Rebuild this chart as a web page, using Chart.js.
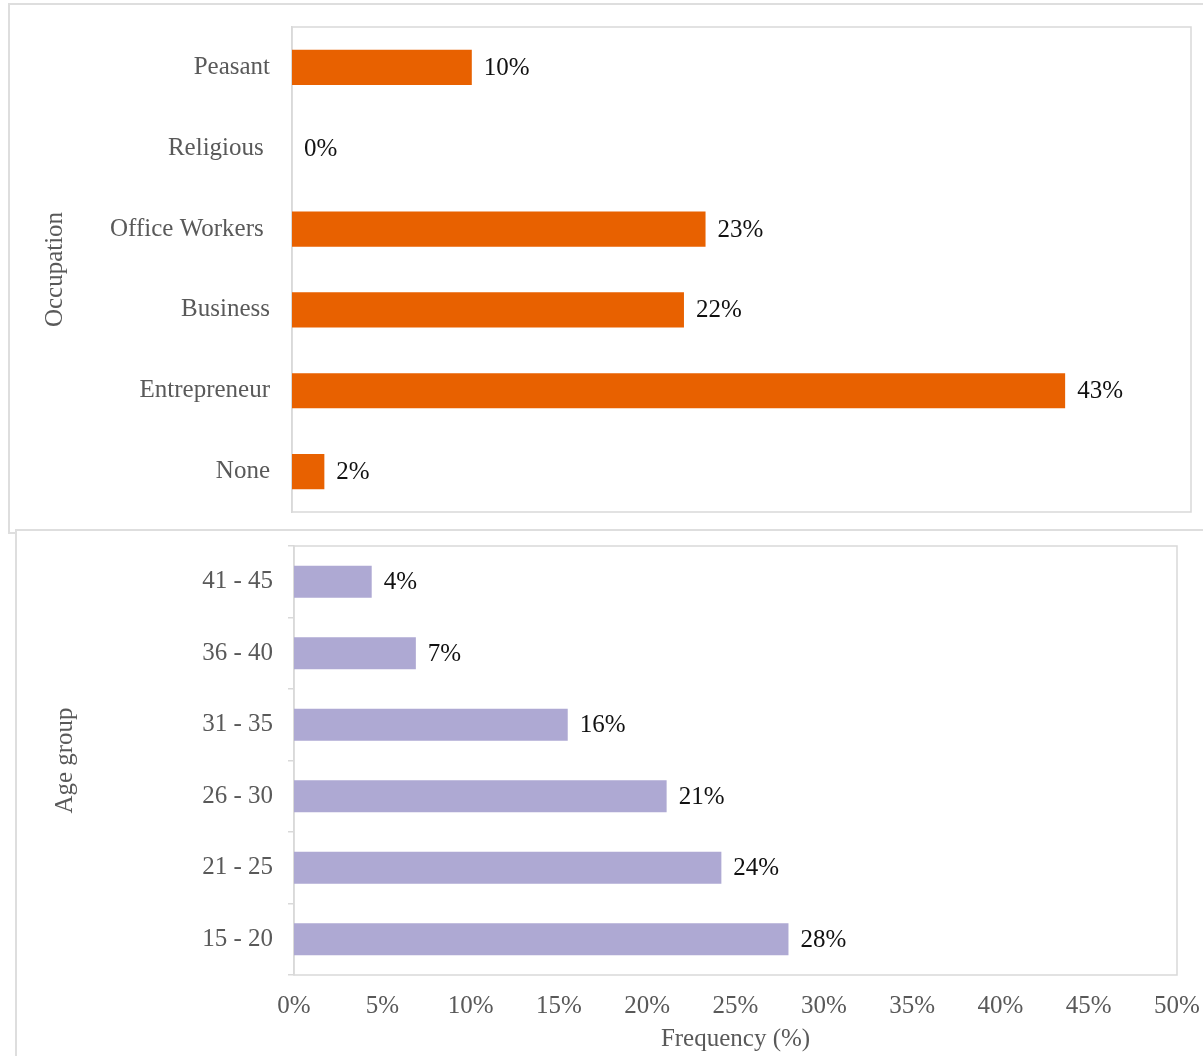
<!DOCTYPE html>
<html>
<head>
<meta charset="utf-8">
<script src="https://cdn.jsdelivr.net/npm/chart.js@4.4.1/dist/chart.umd.min.js"></script>
<style>
    html, body { margin: 0; padding: 0; background: #fff; }
    body { position: relative; width: 1203px; height: 1056px; overflow: hidden; }
    .frame { position: absolute; border: 2px solid #dedede; background: #fff; box-sizing: border-box; }
    #frameTop { left: 8px; top: 3px; width: 1230px; height: 531px; }
    #frameBottom { left: 15px; top: 529px; width: 1230px; height: 560px; }
    canvas { position: absolute; left: 0; }
    #occupationChart { top: 0; }
    #ageChart { top: 530px; }
</style>
</head>
<body>
<div class="frame" id="frameTop"></div>
<canvas id="occupationChart" width="1203" height="533"></canvas>
<div class="frame" id="frameBottom"></div>
<canvas id="ageChart" width="1203" height="526"></canvas>
<script>
// Occupation (top panel)
const occupationLabels = ['Peasant', 'Religious ', 'Office Workers ', 'Business', 'Entrepreneur', 'None'];
const occupationValues = [10.0, 0, 23.0, 21.8, 43.0, 1.8];

// Age group (bottom panel)
const ageLabels = ['41 - 45', '36 - 40', '31 - 35', '26 - 30', '21 - 25', '15 - 20'];
const ageValues = [4.4, 6.9, 15.5, 21.1, 24.2, 28.0];

const xTicks = [0, 5, 10, 15, 20, 25, 30, 35, 40, 45, 50];

const FONT = '"Liberation Serif", "Times New Roman", serif';
const GREY = '#595959';
const LINE = '#d9d9d9';

// box round the plot area
const plotFrame = {
    id: 'plotFrame',
    beforeDatasetsDraw(chart) {
        const { ctx, chartArea: a } = chart;
        ctx.save();
        ctx.strokeStyle = LINE;
        ctx.lineWidth = 1.5;
        ctx.strokeRect(a.left, a.top, a.right - a.left, a.bottom - a.top);
        ctx.restore();
    },
};

// value labels at the end of each bar
const barLabels = {
    id: 'barLabels',
    afterDatasetsDraw(chart) {
        const ctx = chart.ctx;
        const data = chart.data.datasets[0].data;
        const meta = chart.getDatasetMeta(0);
        ctx.save();
        ctx.font = `25px ${FONT}`;
        ctx.fillStyle = '#111';
        ctx.textAlign = 'left';
        ctx.textBaseline = 'middle';
        meta.data.forEach((bar, i) => {
            ctx.fillText(`${Math.round(data[i])}%`, bar.x + 12, bar.y + 1);
        });
        ctx.restore();
    },
};

// no extra room for half labels, the plot area is set by the layout padding
const noLabelPadding = (scale) => {
    scale.paddingTop = 0;
    scale.paddingBottom = 0;
    scale.paddingLeft = 0;
    scale.paddingRight = 0;
};

Chart.defaults.font.family = FONT;
Chart.defaults.font.size = 25;
Chart.defaults.color = GREY;

new Chart(document.getElementById('occupationChart'), {
    type: 'bar',
    data: {
        labels: occupationLabels,
        datasets: [{
            data: occupationValues,
            backgroundColor: '#e86100',
            categoryPercentage: 0.435,
            barPercentage: 1,
        }],
    },
    options: {
        indexAxis: 'y',
        responsive: false,
        animation: false,
        layout: { padding: { left: 0, top: 27, right: 12, bottom: 21 } },
        plugins: { legend: { display: false }, tooltip: { enabled: false } },
        scales: {
            x: { display: false, min: 0, max: 50 },
            y: {
                afterFit: (scale) => { scale.width = 292; noLabelPadding(scale); },
                grid: { display: false, drawTicks: false },
                border: { display: true, color: LINE, width: 1.5 },
                ticks: { padding: 22, color: GREY },
                title: {
                    display: true,
                    text: 'Occupation',
                    color: GREY,
                    padding: { top: 40, bottom: 0 },
                },
            },
        },
    },
    plugins: [plotFrame, barLabels],
});

new Chart(document.getElementById('ageChart'), {
    type: 'bar',
    data: {
        labels: ageLabels,
        datasets: [{
            data: ageValues,
            backgroundColor: '#aea9d3',
            categoryPercentage: 0.447,
            barPercentage: 1,
        }],
    },
    options: {
        indexAxis: 'y',
        responsive: false,
        animation: false,
        layout: { padding: { left: 0, top: 16, right: 26, bottom: 0 } },
        plugins: { legend: { display: false }, tooltip: { enabled: false } },
        scales: {
            x: {
                min: 0,
                max: 50,
                afterFit: (scale) => { scale.height = 81; noLabelPadding(scale); },
                afterBuildTicks: (scale) => { scale.ticks = xTicks.map(v => ({ value: v })); },
                grid: { display: false, drawTicks: false },
                border: { display: false },
                ticks: {
                    padding: 16,
                    color: GREY,
                    callback: (v) => `${v}%`,
                },
                title: {
                    display: true,
                    text: 'Frequency (%)',
                    color: GREY,
                    padding: { top: 0, bottom: 2 },
                },
            },
            y: {
                afterFit: (scale) => { scale.width = 294; noLabelPadding(scale); },
                grid: { display: true, drawOnChartArea: false, drawTicks: true, tickLength: 6, color: LINE, lineWidth: 1.5 },
                border: { display: true, color: LINE, width: 1.5 },
                ticks: { padding: 15, color: GREY },
                title: {
                    display: true,
                    text: 'Age group',
                    color: GREY,
                    padding: { top: 50, bottom: 0 },
                },
            },
        },
    },
    plugins: [plotFrame, barLabels],
});
</script>
</body>
</html>
